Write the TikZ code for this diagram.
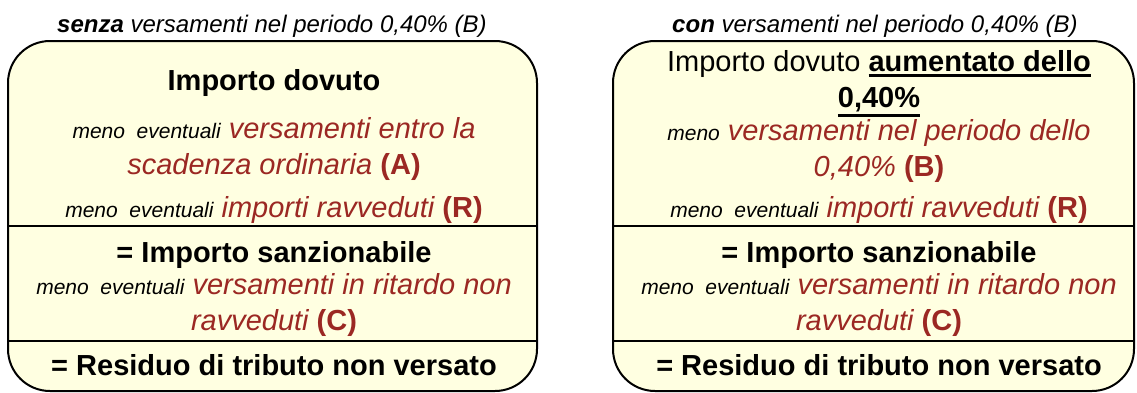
\documentclass[tikz,border=0pt]{standalone}
\usepackage{fontspec}
\setmainfont{Liberation Sans}
\definecolor{boxfill}{RGB}{255,255,225}
\definecolor{amount}{RGB}{155,40,35}
\tikzset{
	panel/.style={draw, line width=1pt, fill=boxfill, rounded corners=21pt},
	divider/.style={line width=1pt},
	rowtext/.style={anchor=base, align=center, inner sep=0pt, font=\fontsize{14.5}{18}\selectfont},
	heading/.style={anchor=base, inner sep=0pt, font=\fontsize{12}{14}\selectfont\itshape},
}
\newcommand{\minor}[1]{{\fontsize{10.5}{12}\selectfont\itshape #1}}
\newcommand{\voce}[1]{\textcolor{amount}{\itshape #1}}
\newcommand{\sigla}[1]{\textcolor{amount}{\bfseries #1}}
\newcommand{\sott}[1]{\leavevmode\vtop{\hbox{#1}\kern1.5pt\hrule height 1.5pt}}
\begin{document}
\begin{tikzpicture}[x=0.5pt,y=-0.5pt]
	\useasboundingbox (0,0) rectangle (1137,392);
	% riquadri
	\draw[panel] (8,41) rectangle (537,391);
	\draw[panel] (613,41) rectangle (1134,391);
	\draw[divider] (8,226)--(537,226);
	\draw[divider] (8,341)--(537,341);
	\draw[divider] (613,226)--(1134,226);
	\draw[divider] (613,341)--(1134,341);
	% senza versamenti (B)
	\node[heading] (ltitle) at (272,32) {\textbf{senza} versamenti nel periodo 0,40\% (B)};
	\node[rowtext] (ldovuto) at (274,90) {\bfseries Importo dovuto};
	\node[rowtext] (lversati) at (274,174) {\minor{meno~ eventuali} \voce{versamenti entro la}\\\voce{scadenza ordinaria} \sigla{(A)}};
	\node[rowtext] (lravv) at (274,217) {\minor{meno~ eventuali} \voce{importi ravveduti} \sigla{(R)}};
	\node[rowtext] (lsanz) at (274,262) {\bfseries = Importo sanzionabile};
	\node[rowtext] (lritardo) at (274,330) {\minor{meno~ eventuali} \voce{versamenti in ritardo non}\\\voce{ravveduti} \sigla{(C)}};
	\node[rowtext] (lresiduo) at (274,375) {\bfseries = Residuo di tributo non versato};
	% con versamenti (B)
	\node[heading] (rtitle) at (875,32) {\textbf{con} versamenti nel periodo 0,40\% (B)};
	\node[rowtext] (rdovuto) at (879,107) {Importo dovuto \textbf{\sott{aumentato dello}}\\\textbf{\sott{0,40\%}}};
	\node[rowtext] (rversati) at (879,176) {\minor{meno} \voce{versamenti nel periodo dello}\\\voce{0,40\%} \sigla{(B)}};
	\node[rowtext] (rravv) at (879,217) {\minor{meno~ eventuali} \voce{importi ravveduti} \sigla{(R)}};
	\node[rowtext] (rsanz) at (879,262) {\bfseries = Importo sanzionabile};
	\node[rowtext] (rritardo) at (879,330) {\minor{meno~ eventuali} \voce{versamenti in ritardo non}\\\voce{ravveduti} \sigla{(C)}};
	\node[rowtext] (rresiduo) at (879,375) {\bfseries = Residuo di tributo non versato};
\end{tikzpicture}
\end{document}
